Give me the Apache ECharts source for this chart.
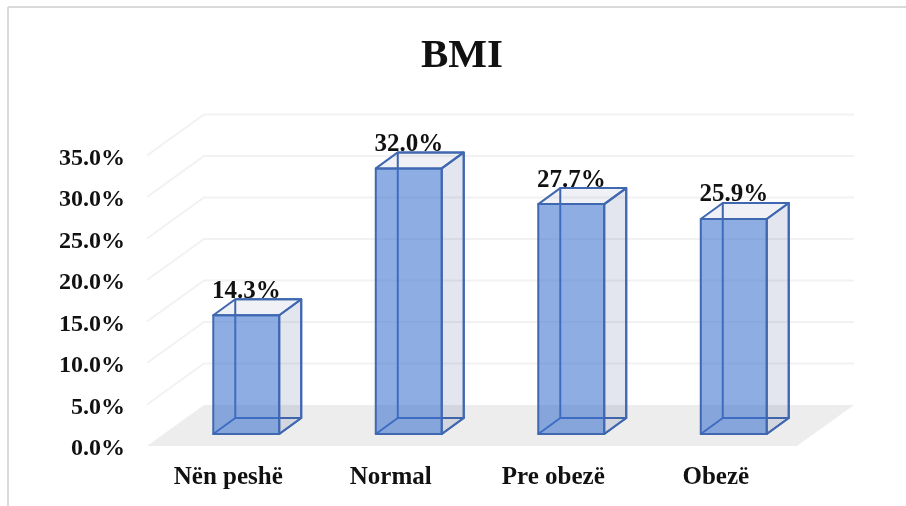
<!DOCTYPE html>
<html>
<head>
<meta charset="utf-8">
<title>BMI</title>
<script src="https://cdn.jsdelivr.net/npm/echarts@6/dist/echarts.min.js"></script>
<style>
html,body{margin:0;padding:0;background:#fff}
#chart{width:906px;height:506px}
</style>
</head>
<body>
<div id="chart"></div>
<script>
// BMI distribution, in percent
const categories = ['Nën peshë', 'Normal', 'Pre obezë', 'Obezë'];
const shares = [14.3, 32.0, 27.7, 25.9];
const valueTicks = [0, 5, 10, 15, 20, 25, 30, 35];

const SERIF = '"Liberation Serif","Times New Roman",serif';

// Oblique projection used for the box walls and the floor
const wallDepth = {dx: 57, dy: -41};
const boxDepth = {dx: 22, dy: -16};
const boxInset = {dx: 18, dy: -12};
const boxWidthRatio = 0.406;

const chart = echarts.init(document.getElementById('chart'), null, {renderer: 'canvas'});

// Floor plus the receding grid lines
function renderWalls(params, api) {
  const tick = api.value(1);
  const area = params.coordSys;
  const y = api.coord([0, tick])[1];
  const x0 = area.x, x1 = area.x + area.width;
  const kids = [];
  if (tick === 0) {
    kids.push({
      type: 'polygon',
      shape: {points: [[x0, y], [x1, y], [x1 + wallDepth.dx, y + wallDepth.dy], [x0 + wallDepth.dx, y + wallDepth.dy]]},
      style: {fill: '#ededed'}
    });
  } else {
    kids.push({
      type: 'polyline',
      shape: {points: [[x0, y], [x0 + wallDepth.dx, y + wallDepth.dy], [x1 + wallDepth.dx, y + wallDepth.dy]]},
      style: {fill: 'none', stroke: '#f2f2f2', lineWidth: 2}
    });
  }
  return {type: 'group', children: kids};
}

// Transparent box for one category
function renderBox(params, api) {
  const value = api.value(1);
  const base = api.coord([api.value(0), 0]);
  const top = api.coord([api.value(0), value]);
  const w = api.size([1, 0])[0] * boxWidthRatio;
  const l = base[0] + boxInset.dx - w / 2, r = l + w;
  const b = base[1] + boxInset.dy, t = top[1] + boxInset.dy;
  const dx = boxDepth.dx, dy = boxDepth.dy;
  const edge = {stroke: '#3f68b0', lineWidth: 2, lineJoin: 'round'};
  const face = (points, fill) => ({type: 'polygon', shape: {points}, style: Object.assign({fill}, edge)});
  return {
    type: 'group',
    children: [
      face([[l + dx, b + dy], [r + dx, b + dy], [r + dx, t + dy], [l + dx, t + dy]], 'rgba(255,255,255,0)'),
      face([[l, b], [r, b], [r + dx, b + dy], [l + dx, b + dy]], 'rgba(255,255,255,0)'),
      face([[r, b], [r + dx, b + dy], [r + dx, t + dy], [r, t]], 'rgba(60,80,140,0.14)'),
      face([[l, t], [r, t], [r + dx, t + dy], [l + dx, t + dy]], 'rgba(60,80,140,0.08)'),
      face([[l, b], [r, b], [r, t], [l, t]], 'rgba(60,114,207,0.58)'),
      {
        type: 'text',
        style: {
          text: value.toFixed(1) + '%',
          x: (l + r) / 2, y: t - 24,
          align: 'center', verticalAlign: 'middle',
          fill: '#111', font: 'bold 25px ' + SERIF
        }
      }
    ]
  };
}

chart.setOption({
  animation: false,
  backgroundColor: '#ffffff',
  title: {
    text: 'BMI', left: 457, top: 31, textAlign: 'center',
    textStyle: {fontFamily: SERIF, fontWeight: 'bold', fontSize: 41, color: '#111'}
  },
  grid: {left: 147, right: 109, top: 155.5, bottom: 60},
  xAxis: {
    type: 'category',
    data: categories,
    axisLine: {show: false},
    axisTick: {show: false},
    axisLabel: {margin: 19, fontFamily: SERIF, fontWeight: 'bold', fontSize: 25, color: '#111'}
  },
  yAxis: {
    type: 'value',
    min: 0, max: 35, interval: 5,
    axisLine: {show: false},
    axisTick: {show: false},
    splitLine: {show: false},
    axisLabel: {
      margin: 22, verticalAlign: 'top', lineHeight: 6, fontFamily: SERIF, fontWeight: 'bold', fontSize: 24, color: '#111',
      formatter: v => v.toFixed(1) + '%'
    }
  },
  graphic: [
    {type: 'line', silent: true, shape: {x1: 8, y1: 7, x2: 906, y2: 7}, style: {stroke: '#d9d9d9', lineWidth: 2}},
    {type: 'line', silent: true, shape: {x1: 8, y1: 7, x2: 8, y2: 506}, style: {stroke: '#d9d9d9', lineWidth: 2}}
  ],
  series: [
    {type: 'custom', silent: true, renderItem: renderWalls, data: valueTicks.map(t => [0, t]), z: 1},
    {type: 'custom', silent: true, renderItem: renderBox, data: categories.map((c, i) => [i, shares[i]]), z: 2}
  ]
});
</script>
</body>
</html>
